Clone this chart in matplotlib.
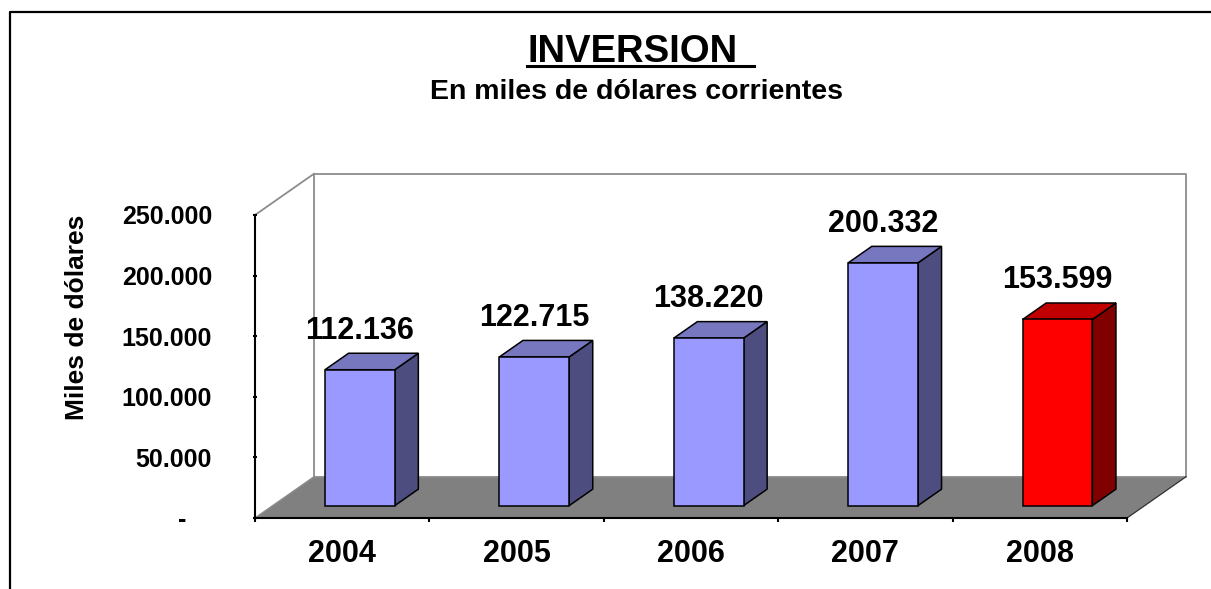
import numpy as np
import matplotlib
matplotlib.use("Agg")
import matplotlib.pyplot as plt
import matplotlib.transforms as mtransforms
from matplotlib.patches import Polygon
from matplotlib.lines import Line2D
from matplotlib.ticker import FuncFormatter, FixedLocator

plt.rcParams["font.family"] = ["Liberation Sans", "DejaVu Sans"]
plt.rcParams["font.weight"] = "bold"

# data (miles de dolares)
years = ["2004", "2005", "2006", "2007", "2008"]
inversion = [112136, 122715, 138220, 200332, 153599]
y_ticks = [0, 50000, 100000, 150000, 200000, 250000]

# colours per bar: front / top / side
front_colors = ["#9999FF", "#9999FF", "#9999FF", "#9999FF", "#FF0000"]
top_colors = ["#7777C0", "#7777C0", "#7777C0", "#7777C0", "#C00000"]
side_colors = ["#4D4D80", "#4D4D80", "#4D4D80", "#4D4D80", "#800000"]

Y_MAX = 250000
# fake 3d: how far the back wall is shifted, in data units
DEPTH_X = 0.338
DEPTH_Y = 34000
BAR_D0, BAR_D1 = 0.3, 0.7   # bar sits between these depths
BAR_W = 0.4                 # fraction of category


def proj(x, y, d):
    return (x + d * DEPTH_X, y + d * DEPTH_Y)


def fmt_miles(v):
    return f"{v:,.0f}".replace(",", ".")


def draw_box(ax, i, v, fc, tc, sc):
    x0 = i + 0.5 - BAR_W / 2
    x1 = i + 0.5 + BAR_W / 2
    ek = dict(edgecolor="black", linewidth=1.1, clip_on=False, zorder=4)
    side = [proj(x1, 0, BAR_D0), proj(x1, 0, BAR_D1), proj(x1, v, BAR_D1), proj(x1, v, BAR_D0)]
    top = [proj(x0, v, BAR_D0), proj(x1, v, BAR_D0), proj(x1, v, BAR_D1), proj(x0, v, BAR_D1)]
    front = [proj(x0, 0, BAR_D0), proj(x1, 0, BAR_D0), proj(x1, v, BAR_D0), proj(x0, v, BAR_D0)]
    ax.add_patch(Polygon(side, closed=True, facecolor=sc, **ek))
    ax.add_patch(Polygon(top, closed=True, facecolor=tc, **ek))
    ax.add_patch(Polygon(front, closed=True, facecolor=fc, **ek))


W, H = 1211, 589
fig = plt.figure(figsize=(W / 100, H / 100), dpi=100)
fig.patch.set_facecolor("white")
ax = fig.add_axes([255 / W, 71 / H, 872 / W, 303 / H])
ax.patch.set_visible(False)
n = len(years)
ax.set_xlim(0, n)
ax.set_ylim(0, Y_MAX)

# floor
floor = [proj(0, 0, 0), proj(n, 0, 0), proj(n, 0, 1), proj(0, 0, 1)]
ax.add_patch(Polygon(floor, closed=True, facecolor="#808080", edgecolor="none",
                     clip_on=False, zorder=1))
fx, fy = zip(proj(n, 0, 0), proj(n, 0, 1))
ax.plot(fx, fy, color="#303030", lw=0.9, clip_on=False, zorder=1.5)

# back wall outline
wall = [proj(0, 0, 1), proj(0, Y_MAX, 1), proj(n, Y_MAX, 1), proj(n, 0, 1), proj(0, 0, 1)]
wx, wy = zip(*wall)
ax.plot(wx, wy, color="#8C8C8C", lw=1.3, clip_on=False, zorder=1.2)
dx, dy = zip(proj(0, Y_MAX, 0), proj(0, Y_MAX, 1))
ax.plot(dx, dy, color="#8C8C8C", lw=1.3, clip_on=False, zorder=1.2)
dx, dy = zip(proj(0, 0, 0), proj(0, 0, 1))
ax.plot(dx, dy, color="#8C8C8C", lw=1.0, clip_on=False, zorder=1.2)

# bars + value labels
for i, v in enumerate(inversion):
    draw_box(ax, i, v, front_colors[i], top_colors[i], side_colors[i])
    lx = proj(i + 0.5, v, BAR_D0)[0]
    ly = proj(i + 0.5, v, BAR_D1)[1]
    ax.annotate(fmt_miles(v), (lx, ly), xytext=(0, 10.5), textcoords="offset points",
                ha="center", va="baseline", fontsize=22, fontweight="bold",
                annotation_clip=False, zorder=6)

# axes look
for s in ["top", "right"]:
    ax.spines[s].set_visible(False)
for s in ["left", "bottom"]:
    ax.spines[s].set_linewidth(1.5)
    ax.spines[s].set_zorder(3)

ax.yaxis.set_major_locator(FixedLocator(y_ticks))
ax.yaxis.set_major_formatter(FuncFormatter(lambda v, p: fmt_miles(v) if v > 0 else ""))
ax.tick_params(axis="y", direction="inout", length=3, width=1.5, pad=29.5, labelsize=18)
ax.text(0, 0, "-", transform=ax.transData + mtransforms.ScaledTranslation(-0.73, 0, fig.dpi_scale_trans),
        ha="center", va="center_baseline", fontsize=18, fontweight="bold")

ax.xaxis.set_major_locator(FixedLocator(np.arange(n + 1)))
ax.xaxis.set_major_formatter(FuncFormatter(lambda v, p: ""))
ax.set_xticks(np.arange(n) + 0.5, years, minor=True)
ax.tick_params(axis="x", which="major", direction="out", length=3, width=1.5)
ax.tick_params(axis="x", which="minor", length=0, pad=15, labelsize=22)

ax.text(-0.204, 0.663, "Miles de dólares", transform=ax.transAxes, rotation=90,
        ha="center", va="center", fontsize=19, fontweight="bold")

# titles
t = fig.text(527 / W, 1 - 62 / H, "INVERSION", ha="left", va="baseline",
             fontsize=27.5, fontweight="bold")
fig.text(636 / W, 1 - 99 / H, "En miles de dólares corrientes", ha="center", va="baseline",
         fontsize=20.5, fontweight="bold")

# underline title (incl. trailing space like the original)
fig.canvas.draw()
bb = t.get_window_extent()
ul_x1 = bb.x1 + 0.45 * 27.5 * 100 / 72
fig.add_artist(Line2D([bb.x0 / W, ul_x1 / W], [1 - 66 / H, 1 - 66 / H],
                      transform=fig.transFigure, color="black", lw=2.2))

# outer chart frame (only top/left visible in the crop)
fig.add_artist(Line2D([9.5 / W, 9.5 / W, 1.0], [0.0, 1 - 12 / H, 1 - 12 / H],
                      transform=fig.transFigure, color="black", lw=1.6))

fig.savefig("out.png", dpi=100)
